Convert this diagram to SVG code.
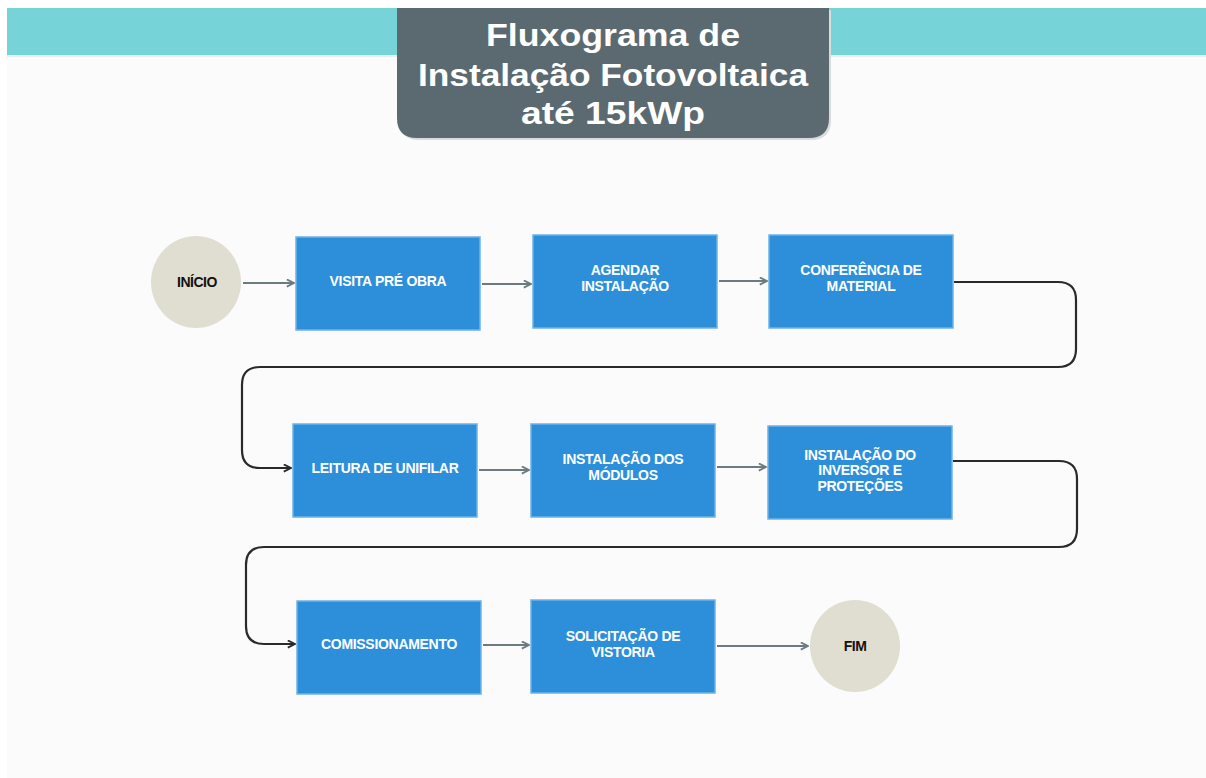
<svg xmlns="http://www.w3.org/2000/svg" width="1206" height="778" viewBox="0 0 1206 778">
<style>
.box{fill:#2d8fd9;stroke:#6fb3e8;stroke-width:1.5}
.term{fill:#e0ddd1}
.lbl{font-family:"Liberation Sans",Arial,sans-serif;font-weight:bold;font-size:14px;fill:#ffffff;text-anchor:middle;letter-spacing:-0.3px}
.tlbl{font-family:"Liberation Sans",Arial,sans-serif;font-weight:bold;font-size:14px;fill:#111111;text-anchor:middle;letter-spacing:-0.5px}
.title{font-family:"Liberation Sans",Arial,sans-serif;font-weight:bold;font-size:32px;fill:#ffffff;text-anchor:middle}
.g{fill:none;stroke:#6b7b80;stroke-width:2.2}
.k{fill:none;stroke:#2a2a2a;stroke-width:2.2}
</style>
<defs>
<marker id="ag" viewBox="0 0 10 10" refX="9" refY="5" markerWidth="9" markerHeight="9" markerUnits="userSpaceOnUse" orient="auto">
<path d="M1,1 L9,5 L1,9" fill="none" stroke="#6b7b80" stroke-width="2"/>
</marker>
<marker id="ak" viewBox="0 0 10 10" refX="9" refY="5" markerWidth="9" markerHeight="9" markerUnits="userSpaceOnUse" orient="auto">
<path d="M1,1 L9,5 L1,9" fill="none" stroke="#2a2a2a" stroke-width="2"/>
</marker>
</defs>
<rect x="0" y="0" width="1206" height="778" fill="#ffffff"/>
<rect x="7" y="8" width="1199" height="770" fill="#fbfbfb"/>
<rect x="7" y="8" width="1199" height="47" fill="#76d3d8"/>
<rect x="7" y="55" width="1199" height="2" fill="#e6eef0"/>
<g id="title">
<path d="M399,10 H831 V120 Q831,140 811,140 H419 Q399,140 399,120 Z" fill="#d8dcdd"/>
<path d="M397,8 H829 V118 Q829,138 809,138 H417 Q397,138 397,118 Z" fill="#5b6a70"/>
<text class="title" x="613" y="46" textLength="254" lengthAdjust="spacingAndGlyphs">Fluxograma de</text>
<text class="title" x="613" y="86" textLength="390" lengthAdjust="spacingAndGlyphs">Instalação Fotovoltaica</text>
<text class="title" x="613" y="124" textLength="184" lengthAdjust="spacingAndGlyphs">até 15kWp</text>
</g>
<g id="connectors">
<path class="g" d="M243,283 H294" marker-end="url(#ag)"/>
<path class="g" d="M482,284 H531" marker-end="url(#ag)"/>
<path class="g" d="M719,281 H767" marker-end="url(#ag)"/>
<path class="k" d="M954,282 H1058 Q1076,282 1076,300 V349 Q1076,367 1058,367 H260 Q242,367 242,385 V450 Q242,468 260,468 H291" marker-end="url(#ak)"/>
<path class="g" d="M479,470 H529" marker-end="url(#ag)"/>
<path class="g" d="M717,467 H766" marker-end="url(#ag)"/>
<path class="k" d="M953,461 H1059 Q1077,461 1077,479 V529 Q1077,547 1059,547 H264 Q246,547 246,565 V626 Q246,644 264,644 H295" marker-end="url(#ak)"/>
<path class="g" d="M483,645 H529" marker-end="url(#ag)"/>
<path class="g" d="M717,646 H808" marker-end="url(#ag)"/>
</g>
<g id="inicio">
<ellipse class="term" cx="196" cy="282" rx="45" ry="46"/>
<text class="tlbl" x="197" y="287">INÍCIO</text>
</g>
<g id="visita">
<rect class="box" x="296" y="237" width="184" height="93"/>
<text class="lbl" x="388" y="286">VISITA PRÉ OBRA</text>
</g>
<g id="agendar">
<rect class="box" x="533" y="235" width="184" height="93"/>
<text class="lbl" x="625" y="275">AGENDAR</text>
<text class="lbl" x="625" y="291">INSTALAÇÃO</text>
</g>
<g id="conferencia">
<rect class="box" x="769" y="235" width="184" height="93"/>
<text class="lbl" x="861" y="275">CONFERÊNCIA DE</text>
<text class="lbl" x="861" y="291">MATERIAL</text>
</g>
<g id="leitura">
<rect class="box" x="293" y="424" width="184" height="93"/>
<text class="lbl" x="385" y="473">LEITURA DE UNIFILAR</text>
</g>
<g id="modulos">
<rect class="box" x="531" y="424" width="184" height="93"/>
<text class="lbl" x="623" y="464">INSTALAÇÃO DOS</text>
<text class="lbl" x="623" y="480">MÓDULOS</text>
</g>
<g id="inversor">
<rect class="box" x="768" y="426" width="184" height="93"/>
<text class="lbl" x="860" y="460">INSTALAÇÃO DO</text>
<text class="lbl" x="860" y="475">INVERSOR E</text>
<text class="lbl" x="860" y="491">PROTEÇÕES</text>
</g>
<g id="comissionamento">
<rect class="box" x="297" y="601" width="184" height="93"/>
<text class="lbl" x="389" y="649">COMISSIONAMENTO</text>
</g>
<g id="solicitacao">
<rect class="box" x="531" y="600" width="184" height="93"/>
<text class="lbl" x="623" y="641">SOLICITAÇÃO DE</text>
<text class="lbl" x="623" y="657">VISTORIA</text>
</g>
<g id="fim">
<ellipse class="term" cx="855" cy="646" rx="45" ry="46"/>
<text class="tlbl" x="855" y="651">FIM</text>
</g>
</svg>
